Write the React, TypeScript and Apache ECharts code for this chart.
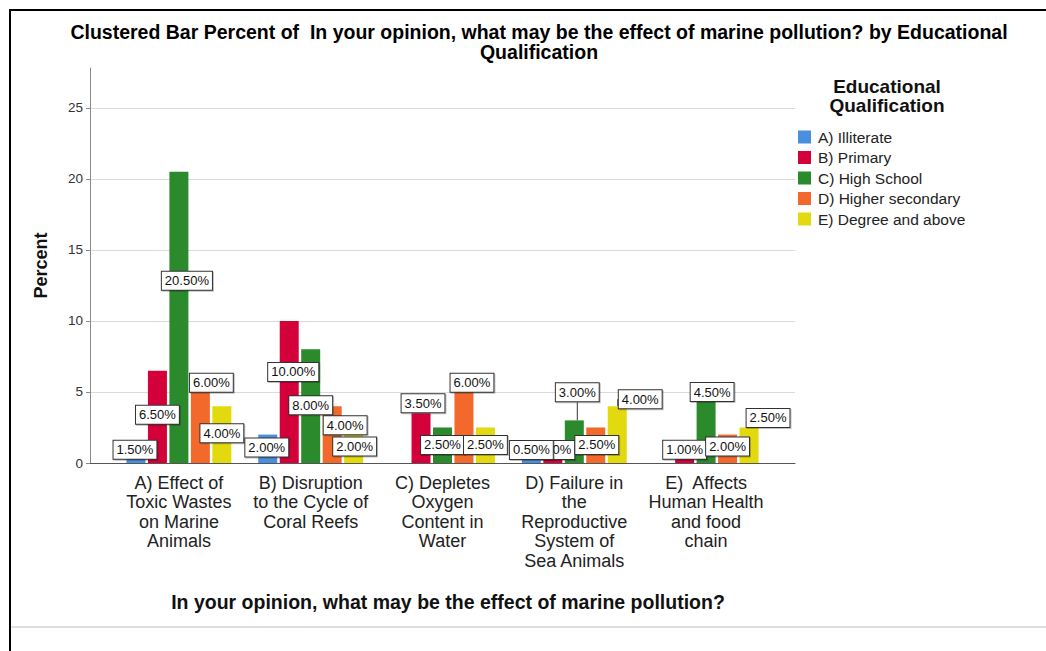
import React, { useEffect, useRef } from "react";
import * as echarts from "echarts";

// Categories on the x axis (answers to the survey question)
const CATEGORIES = [
  "A) Effect of\nToxic Wastes\non Marine\nAnimals",
  "B) Disruption\nto the Cycle of\nCoral Reefs",
  "C) Depletes\nOxygen\nContent in\nWater",
  "D) Failure in\nthe\nReproductive\nSystem of\nSea Animals",
  "E)  Affects\nHuman Health\nand food\nchain",
];

// Educational qualification groups (legend)
const GROUPS = [
  "A) Illiterate",
  "B) Primary",
  "C) High School",
  "D) Higher secondary",
  "E) Degree and above",
];

// Percent of respondents per category, one array per group (null = no respondents)
const ILLITERATE = [1.5, 2.0, null, 0.5, null];
const PRIMARY = [6.5, 10.0, 3.5, 0.5, 1.0];
const HIGH_SCHOOL = [20.5, 8.0, 2.5, 3.0, 4.5];
const HIGHER_SECONDARY = [6.0, 4.0, 6.0, 2.5, 2.0];
const DEGREE_AND_ABOVE = [4.0, 2.0, 2.5, 4.0, 2.5];

const SERIES_VALUES = [ILLITERATE, PRIMARY, HIGH_SCHOOL, HIGHER_SECONDARY, DEGREE_AND_ABOVE];

const Y_MAX = 27.8;
const Y_STEP = 5;

const COLORS = ["#4A8FDD", "#D4003A", "#2A8A2C", "#F2692B", "#E3D90F"];

// Label placement relative to the top centre of each bar, [dx, dy] in px
const LABEL_NUDGE: ([number, number] | null)[][] = [
  [[-1, 8], [-1, 13], null, [0, -6], null],
  [[0, 44], [4, 51], [2, -10], [0, -6], [0, 1]],
  [[8, 109], [0, 56], [0, 17.5], [3, -28], [6, -7]],
  [[11, 5], [13, 19], [8, 5], [1, 17.5], [0, 12]],
  [[0, 27], [1, 12], [0, 17.5], [23, -7], [19, -9.5]],
];

// Labels connected to their bar by a leader line: [series, category]
const LEADER_LINES: [number, number][] = [
  [2, 3],
  [4, 3],
];

const FONT = 'Arial, "Liberation Sans", sans-serif';

export default function App() {
  const ref = useRef<HTMLDivElement>(null);

  useEffect(() => {
    if (!ref.current) return;
    const chart = echarts.init(ref.current, undefined, { renderer: "svg" });

    const series = SERIES_VALUES.map((values, s) => ({
      type: "bar",
      name: GROUPS[s],
      xAxisIndex: 0,
      yAxisIndex: 0,
      z: s === 0 ? 3 : 2,
      barWidth: 19,
      barGap: "13%",
      itemStyle: { color: COLORS[s] },
      data: values.map((v, c) =>
        v === null
          ? null
          : {
              value: v,
              labelLine: {
                show: LEADER_LINES.some(([ls, lc]) => ls === s && lc === c),
              },
            }
      ),
      label: {
        show: true,
        formatter: (p: any) => `${Number(p.value).toFixed(2)}%`,
        fontFamily: FONT,
        fontSize: 13,
        color: "#111",
        backgroundColor: "#fff",
        borderColor: "#333",
        borderWidth: 1,
        padding: [3, 3, 2, 3],
        shadowColor: "rgba(0,0,0,0.25)",
        shadowOffsetX: 1,
        shadowOffsetY: 1,
        shadowBlur: 1,
      },
      labelLine: { show: false, lineStyle: { color: "#333", width: 1 } },
      labelLayout: (p: any) => {
        const nudge = LABEL_NUDGE[p.seriesIndex][p.dataIndex] || [0, 0];
        return {
          x: p.rect.x + p.rect.width / 2 + nudge[0],
          y: p.rect.y + nudge[1],
          align: "center",
          verticalAlign: "middle",
        };
      },
    }));

    const splitColors = ["#dadada", "#dadada", "#dadada", "#dadada", "#dadada", "#dadada", "rgba(0,0,0,0)"];

    chart.setOption({
      animation: false,
      backgroundColor: "#fff",
      textStyle: { fontFamily: FONT },
      title: [
        {
          text:
            "Clustered Bar Percent of  In your opinion, what may be the effect of marine pollution? by Educational\nQualification",
          left: 534,
          top: 17,
          textAlign: "center",
          textStyle: { fontFamily: FONT, fontSize: 19.5, fontWeight: "bold", color: "#000", lineHeight: 20 },
        },
        {
          text: "Educational\nQualification",
          left: 882,
          top: 72,
          textAlign: "center",
          textStyle: { fontFamily: FONT, fontSize: 19, fontWeight: "bold", color: "#111", lineHeight: 19 },
        },
        {
          text: "In your opinion, what may be the effect of marine pollution?",
          left: 443,
          top: 587,
          textAlign: "center",
          textStyle: { fontFamily: FONT, fontSize: 19.5, fontWeight: "bold", color: "#111" },
        },
      ],
      legend: {
        orient: "vertical",
        left: 798,
        top: 129,
        padding: 0,
        icon: "rect",
        itemWidth: 13,
        itemHeight: 13,
        itemGap: 4.5,
        data: GROUPS,
        textStyle: { fontFamily: FONT, fontSize: 15.5, color: "#222", lineHeight: 15, padding: [0, 0, 0, 2] },
      },
      grid: [
        { left: 113, right: 274, top: 68, bottom: 188 },
        { left: 90, right: 251, top: 68, bottom: 188 },
      ],
      xAxis: [
        {
          type: "category",
          gridIndex: 0,
          data: CATEGORIES,
          axisLine: { show: false },
          axisTick: { show: false },
          axisLabel: {
            interval: 0,
            margin: 10,
            fontFamily: FONT,
            fontSize: 18,
            lineHeight: 19.5,
            color: "#222",
          },
        },
        {
          type: "value",
          gridIndex: 1,
          min: 0,
          max: 1,
          axisLine: { show: true, lineStyle: { color: "#555", width: 1 } },
          axisTick: { show: false },
          axisLabel: { show: false },
          splitLine: { show: false },
        },
      ],
      yAxis: [
        { type: "value", gridIndex: 0, min: 0, max: Y_MAX, show: false },
        {
          type: "value",
          gridIndex: 1,
          min: 0,
          max: Y_MAX,
          interval: Y_STEP,
          name: "Percent",
          nameLocation: "middle",
          nameRotate: 90,
          nameGap: 40,
          nameTextStyle: { fontFamily: FONT, fontSize: 18, fontWeight: "bold", color: "#111" },
          axisLine: { show: true, lineStyle: { color: "#8a8a8a" } },
          axisTick: { show: true, length: 4, lineStyle: { color: "#8a8a8a" } },
          axisLabel: {
            showMaxLabel: false,
            margin: 7,
            fontFamily: FONT,
            fontSize: 13.5,
            color: "#333",
            formatter: (v: number) => (v % Y_STEP === 0 ? String(v) : ""),
          },
          splitLine: { show: true, lineStyle: { color: splitColors, width: 1 } },
        },
      ],
      graphic: [
        { type: "line", shape: { x1: 10, y1: 10, x2: 1046, y2: 10 }, style: { stroke: "#000", lineWidth: 2 } },
        { type: "line", shape: { x1: 10, y1: 9, x2: 10, y2: 651 }, style: { stroke: "#000", lineWidth: 2 } },
        { type: "line", shape: { x1: 11, y1: 627, x2: 1046, y2: 627 }, style: { stroke: "#dedede", lineWidth: 2 } },
      ],
      series,
    });

    return () => chart.dispose();
  }, []);

  return (
    <div
      ref={ref}
      style={{ position: "absolute", left: 0, top: 0, width: 1046, height: 651 }}
    />
  );
}
